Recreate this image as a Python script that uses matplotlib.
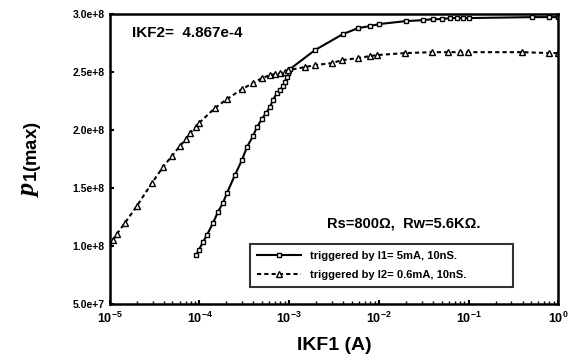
import numpy as np
import matplotlib
matplotlib.use("Agg")
import matplotlib.pyplot as plt
from matplotlib.ticker import FuncFormatter, LogLocator, FixedLocator

# IKF1 (A) and p1(max) for the two trigger conditions
ikf1_i1 = 10 ** np.array([-4.040, -4.007, -3.962, -3.917, -3.850, -3.795, -3.739, -3.694,
                          -3.605, -3.527, -3.471, -3.404, -3.359, -3.304, -3.259, -3.214,
                          -3.181, -3.136, -3.103, -3.069, -3.047, -3.025, -3.013, -2.991,
                          -2.712, -2.400, -2.232, -2.098, -1.998, -1.696, -1.507, -1.395,
                          -1.295, -1.205, -1.127, -1.060, -0.993, -0.290, -0.100, 0.000])
p_i1 = np.array([0.922, 0.966, 1.034, 1.095, 1.198, 1.293, 1.371, 1.457,
                 1.612, 1.741, 1.853, 1.948, 2.026, 2.095, 2.147, 2.198,
                 2.259, 2.319, 2.345, 2.379, 2.414, 2.457, 2.491, 2.526,
                 2.690, 2.828, 2.879, 2.897, 2.914, 2.940, 2.948, 2.957,
                 2.957, 2.966, 2.966, 2.966, 2.966, 2.974, 2.974, 2.974]) * 1e8

ikf1_i2 = 10 ** np.array([-5.000, -4.967, -4.922, -4.833, -4.699, -4.531, -4.408, -4.308,
                          -4.219, -4.152, -4.107, -4.040, -4.007, -3.828, -3.694, -3.527,
                          -3.404, -3.304, -3.214, -3.158, -3.103, -3.047, -3.013, -2.824,
                          -2.712, -2.522, -2.411, -2.232, -2.098, -2.020, -1.708, -1.406,
                          -1.228, -1.094, -1.004, -0.402, -0.100, 0.000])
p_i2 = np.array([1.00, 1.052, 1.103, 1.198, 1.345, 1.543, 1.681, 1.776,
                 1.862, 1.922, 1.974, 2.026, 2.060, 2.190, 2.267, 2.353,
                 2.405, 2.448, 2.474, 2.483, 2.491, 2.500, 2.517, 2.543,
                 2.560, 2.578, 2.603, 2.621, 2.638, 2.647, 2.664, 2.672,
                 2.672, 2.672, 2.672, 2.672, 2.664, 2.664]) * 1e8

y_ticks = [5.0e7, 1.0e8, 1.5e8, 2.0e8, 2.5e8, 3.0e8]

plt.rcParams['font.family'] = ['Liberation Sans', 'DejaVu Sans']
plt.rcParams['font.weight'] = 'bold'
plt.rcParams['mathtext.fontset'] = 'custom'
plt.rcParams['mathtext.it'] = 'Liberation Serif:italic:bold'
plt.rcParams['mathtext.bf'] = 'Liberation Sans:bold'
plt.rcParams['mathtext.rm'] = 'Liberation Sans:bold'


def sci_fmt(v, pos):
    e = int(np.floor(np.log10(v)))
    return '%.1fe+%d' % (v / 10 ** e, e)


fig = plt.figure(figsize=(5.69, 3.62), dpi=100)
ax = fig.add_axes([0.193, 0.160, 0.788, 0.801])

ax.plot(ikf1_i1, p_i1, color='black', lw=1.5, marker='s', ms=3.5,
        mfc='white', mec='black', mew=1.0,
        label='triggered by I1= 5mA, 10nS.')
ax.plot(ikf1_i2[1:], p_i2[1:], color='black', lw=1.5, ls=(0, (2, 1.5)), marker='^', ms=4.5,
        mfc='white', mec='black', mew=1.0,
        label='triggered by I2= 0.6mA, 10nS.')
ax.plot(ikf1_i2[:2], p_i2[:2], color='black', lw=1.5, ls=(0, (2, 1.5)))

ax.set_xscale('log')
ax.set_xlim(1e-5, 1e0)
ax.set_ylim(5.0e7, 3.0e8)

ax.yaxis.set_major_locator(FixedLocator(y_ticks))
ax.yaxis.set_major_formatter(FuncFormatter(sci_fmt))
ax.xaxis.set_major_locator(LogLocator(base=10, numticks=10))
ax.xaxis.set_minor_locator(LogLocator(base=10, subs=np.arange(2, 10), numticks=10))

ax.tick_params(axis='both', which='major', direction='in', length=3, width=1.5, labelsize=7.5)
ax.tick_params(axis='x', which='major', labelsize=9, pad=5)
ax.tick_params(axis='x', which='minor', direction='in', length=2, width=1)
for s in ax.spines.values():
    s.set_linewidth(1.8)

ax.set_xlabel('IKF1 (A)', fontsize=14, fontweight='bold', labelpad=8)
ax.set_ylabel(r'$\mathit{p}_{\mathbf{1(max)}}$', fontsize=19, labelpad=20)

ax.text(0.049, 0.934, 'IKF2=  4.867e-4', transform=ax.transAxes, fontsize=11,
        fontweight='bold', va='center')
ax.text(0.826, 0.279, 'Rs=800Ω,  Rw=5.6KΩ.', transform=ax.transAxes, fontsize=10.5,
        fontweight='bold', ha='right', va='center')

leg = ax.legend(loc='lower left', bbox_to_anchor=(0.301, 0.041, 0.61, 0.15), mode='expand',
                fontsize=8, frameon=True, fancybox=False, edgecolor='black',
                handlelength=4, borderpad=0.6, labelspacing=0.8)
leg.get_frame().set_linewidth(1.5)

fig.savefig('out.png', dpi=100)
